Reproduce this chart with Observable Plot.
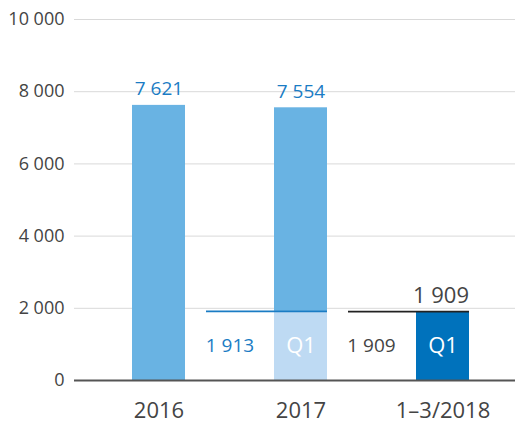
<!DOCTYPE html>
<html>
<head>
<meta charset="utf-8">
<script src="https://cdn.jsdelivr.net/npm/d3@7"></script>
<script src="https://cdn.jsdelivr.net/npm/@observablehq/plot@0.6"></script>
<style>
  html, body { margin: 0; padding: 0; background: #fff; }
  #chart svg { display: block; }
</style>
</head>
<body>
<div id="chart"></div>
<script>
const categories = ["2016", "2017", "1–3/2018"];
const totals = [7621, 7554, 1909];
const q1Values = [null, 1913, 1909];
const q1Labels = ["", "Q1", "Q1"];
const yTicks = [0, 2000, 4000, 6000, 8000, 10000];

const fmt = v => d3.format(",")(v).replace(/,/g, " ");

const rows = categories.map((c, i) => ({cat: c, total: totals[i], q1: q1Values[i], q1Label: q1Labels[i]}));
const byCat = c => rows.filter(r => r.cat === c);

const font = "'Open Sans', 'Noto Sans', sans-serif";

const chart = Plot.plot({
  width: 515,
  height: 424,
  marginTop: 19,
  marginBottom: 44,
  marginLeft: 74,
  marginRight: 0,
  style: {fontFamily: font, background: "#fff"},
  x: {domain: categories, range: [86.3, 513.8], paddingInner: 0.628, paddingOuter: 0.314},
  y: {domain: [0, 10000], ticks: yTicks},
  marks: [
    Plot.gridY(yTicks, {stroke: "#d9d9d9", strokeOpacity: 1, strokeWidth: 1}),
    Plot.axisY(yTicks, {tickSize: 0, tickPadding: 10, fontSize: 18, fill: "#444", tickFormat: fmt}),
    Plot.axisX({tickSize: 0, tickPadding: 22, fontSize: 22, fill: "#444", label: null}),
    // 2016 full bar
    Plot.barY(byCat("2016"), {x: "cat", y1: 0, y2: "total", fill: "#69b3e3"}),
    // 2017: Q1 part + rest
    Plot.barY(byCat("2017"), {x: "cat", y1: "q1", y2: "total", fill: "#69b3e3"}),
    Plot.barY(byCat("2017"), {x: "cat", y1: 0, y2: "q1", fill: "#bedaf3"}),
    // 2018 Q1
    Plot.barY(byCat("1–3/2018"), {x: "cat", y1: 0, y2: "q1", fill: "#0072bc"}),
    // Q1 reference lines
    Plot.tickY(byCat("2017"), {x: "cat", y: "q1", stroke: "#1a7cc4", strokeWidth: 1.7, insetLeft: -68}),
    Plot.tickY(byCat("1–3/2018"), {x: "cat", y: "q1", stroke: "#222", strokeWidth: 1.7, insetLeft: -68}),
    // total labels
    Plot.text(rows.filter(r => r.cat !== "1–3/2018"), {x: "cat", y: "total", text: d => fmt(d.total), dy: -16, fill: "#1a7cc4", fontSize: 19}),
    Plot.text(byCat("1–3/2018"), {x: "cat", y: "total", text: d => fmt(d.total), dy: -16, dx: -2, fill: "#444", fontSize: 22}),
    // Q1 labels inside bars
    Plot.text(rows.filter(r => r.q1 != null), {x: "cat", y: d => d.q1 / 2, text: "q1Label", fill: "#fff", fontSize: 22}),
    // side Q1 values
    Plot.text(byCat("2017"), {x: "cat", y: d => d.q1 / 2, text: d => fmt(d.q1), dx: -71, fill: "#1a7cc4", fontSize: 19}),
    Plot.text(byCat("1–3/2018"), {x: "cat", y: d => d.q1 / 2, text: d => fmt(d.q1), dx: -71.5, fill: "#444", fontSize: 19}),
    // zero baseline
    Plot.ruleY([0], {stroke: "#555", strokeWidth: 2})
  ]
});
document.getElementById("chart").appendChild(chart);
</script>
</body>
</html>
